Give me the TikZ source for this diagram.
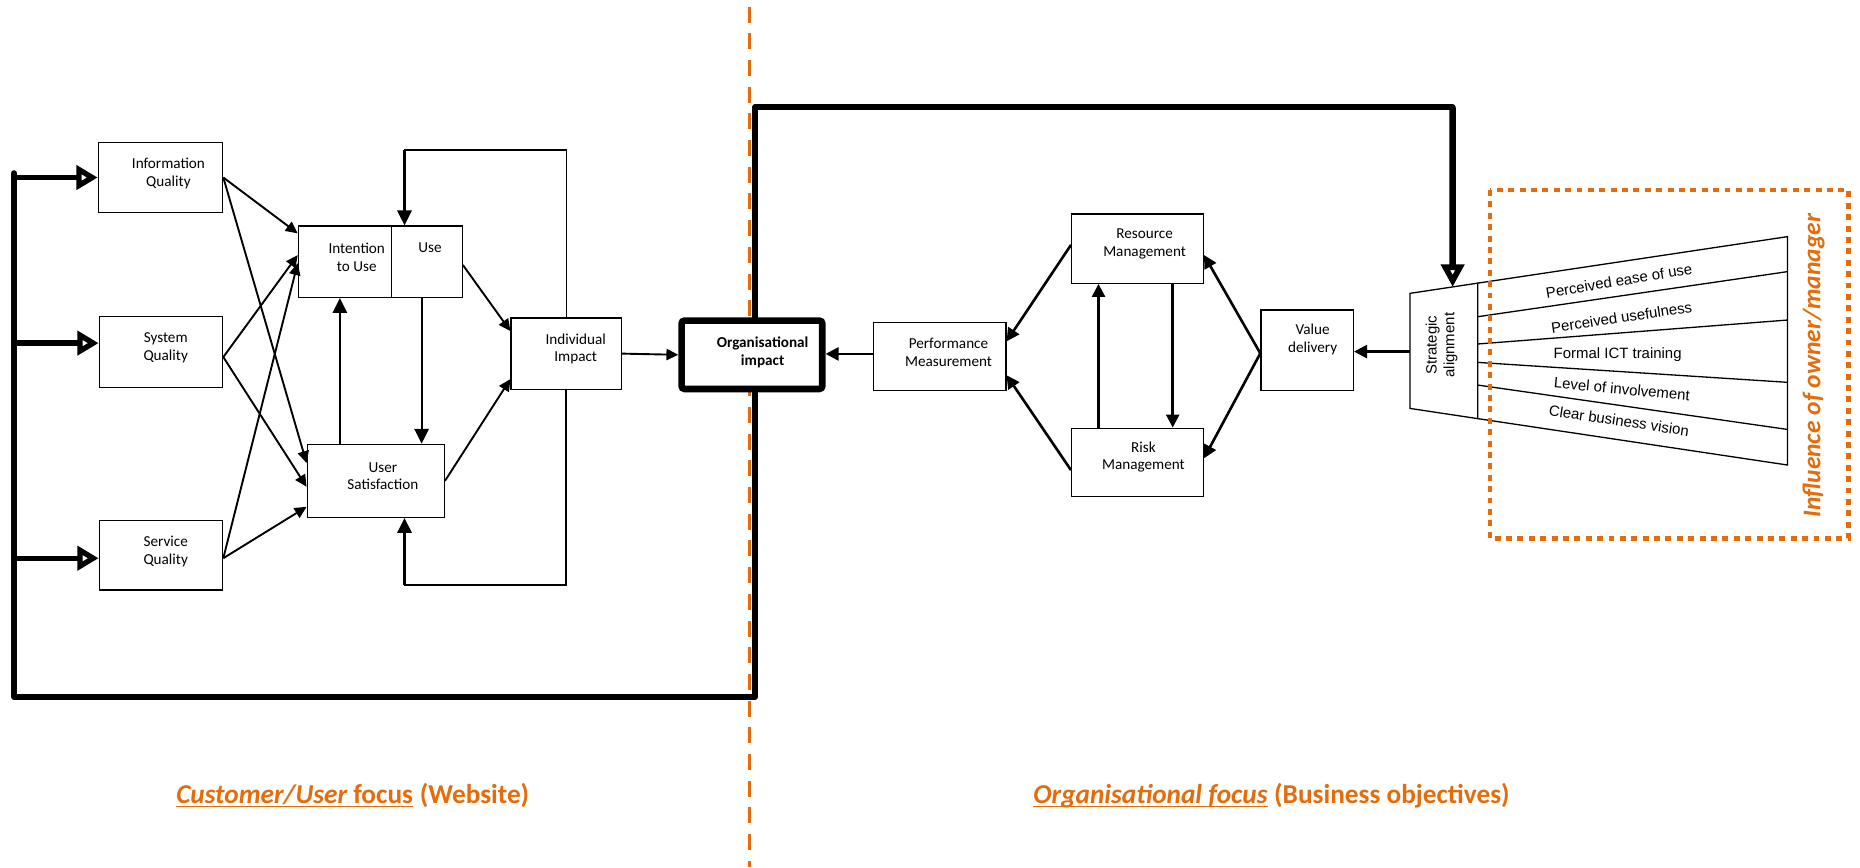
\documentclass[tikz,border=0pt]{standalone}
\usepackage{fontspec}
\setmainfont{Carlito}
\newfontfamily\arialfont{Liberation Sans}
\usetikzlibrary{arrows.meta,calc}
\definecolor{accent}{RGB}{228,108,10}

\begin{document}
\begin{tikzpicture}[x=1pt,y=-1pt,
  every node/.style={inner sep=0pt},
  box/.style={draw, line width=1.1pt, fill=white, inner sep=0pt},
  boxtext/.style={font=\fontsize{12.8}{15}\selectfont, align=center},
  thinarrow/.style={line width=1.6pt, -{Triangle[length=10pt, width=9.5pt]}},
  midarrow/.style={line width=1.8pt, -{Triangle[length=12.5pt, width=12pt]}},
  rarrow/.style={line width=2.2pt, -{Triangle[length=11pt, width=11pt]}},
  bigarrow/.style={line width=4.5pt, -{Triangle[open, length=18pt, width=20pt]}},
  droparrow/.style={line width=5.5pt, -{Triangle[open, length=19pt, width=19pt]}},
  heavyline/.style={line width=5pt, line join=round, line cap=round},
  fbline/.style={line width=1.1pt, line cap=rect},
  fanline/.style={line width=1.1pt},
  fantext/.style={font=\arialfont\fontsize{12.6}{15}\selectfont},
  divider/.style={draw=accent, line width=2.8pt, dash pattern=on 13.5pt off 9pt, dash phase=16.9pt},
  dotbox/.style={draw=accent, line width=4pt, dash pattern=on 5pt off 4.6pt},
  focuslabel/.style={text=accent, font=\fontsize{23}{27}\selectfont\bfseries, inner sep=0pt, anchor=base west},
]
\useasboundingbox (0,0) rectangle (1568,731);

% dashed divider between the two focus areas
\draw[divider] (631.7,0) -- (631.7,731);

% ---------------- customer / user side ----------------
\node[box, minimum width=104.8pt, minimum height=59.3pt,
      label={[boxtext, xshift=6.7pt, yshift=3.6pt]center:Information\\Quality}] (iq) at (135.3,149.65) {};
\node[box, minimum width=104pt, minimum height=59.5pt,
      label={[boxtext, xshift=4pt, yshift=3.6pt]center:System\\Quality}] (sq) at (135.7,296.75) {};
\node[box, minimum width=104pt, minimum height=58.4pt,
      label={[boxtext, xshift=4pt, yshift=3.6pt]center:Service\\Quality}] (svq) at (135.7,468.2) {};

\node[box, minimum width=78.5pt, minimum height=60.2pt,
      label={[boxtext, xshift=10pt, yshift=3.6pt]center:Intention\\to Use}] (itu) at (290.75,220.6) {};
\node[box, minimum width=59.7pt, minimum height=60.2pt,
      label={[boxtext, xshift=2.7pt, yshift=11.6pt]center:Use}] (use) at (359.85,220.6) {};
\node[box, minimum width=115.6pt, minimum height=61.5pt,
      label={[boxtext, xshift=6pt, yshift=4pt]center:User\\Satisfaction}] (us) at (316.8,405.35) {};
\node[box, minimum width=93pt, minimum height=60.2pt,
      label={[boxtext, xshift=8pt, yshift=4pt]center:Individual\\Impact}] (ii) at (477.3,298.1) {};

% quality dimensions feeding intention to use and satisfaction
\coordinate (sqout) at ($(sq.north east)!0.57!(sq.south east)$);
\coordinate (svqout) at ($(svq.north east)!0.54!(svq.south east)$);
\draw[thinarrow] (iq.east) -- ($(itu.north west)!0.11!(itu.south west)$);
\draw[thinarrow] (iq.east) -- ($(us.north west)!0.26!(us.south west)$);
\draw[thinarrow] (sqout) -- ($(itu.north west)!0.41!(itu.south west)$);
\draw[thinarrow] (sqout) -- ($(us.north west)!0.58!(us.south west)$);
\draw[thinarrow] (svqout) -- ($(itu.north west)!0.52!(itu.south west)$);
\draw[thinarrow] (svqout) -- ($(us.north west)!0.85!(us.south west)$);

% use and satisfaction
\coordinate (upx) at ($(itu.south west)!0.447!(itu.south east)$);
\draw[midarrow] (upx |- us.north) -- (upx);
\coordinate (dnx) at ($(use.south west)!0.427!(use.south east)$);
\draw[midarrow] (dnx) -- (dnx |- us.north);

% towards individual impact
\draw[thinarrow] ($(use.north east)!0.546!(use.south east)$) -- ($(ii.north west)!0.19!(ii.south west)$);
\draw[thinarrow] (us.east) -- ($(ii.north west)!0.85!(ii.south west)$);

% feedback loops from individual impact
\coordinate (fbtop) at (341,126.5);
\coordinate (fbbot) at (341,493.2);
\draw[fbline] (ii.north) |- (fbtop);
\draw[midarrow] (fbtop) -- (fbtop |- use.north);
\draw[fbline, line width=1.4pt] (ii.south) |- (fbbot);
\draw[midarrow] (fbbot) -- (fbbot |- us.south);

% ---------------- organisational side ----------------
\node[box, line width=5.6pt, rounded corners=2.5pt, minimum width=118.6pt, minimum height=57.6pt,
      label={[boxtext, font=\fontsize{12.8}{15}\selectfont\bfseries, xshift=9pt, yshift=2pt]center:Organisational\\impact}] (org) at (633.9,299.1) {};
\draw[thinarrow] (ii.east) -- (org.west);

\node[box, minimum width=111.8pt, minimum height=57.4pt,
      label={[boxtext, xshift=7.5pt, yshift=3.7pt]center:Performance\\Measurement}] (pm) at (792.1,300.7) {};
\node[box, minimum width=111pt, minimum height=58.4pt,
      label={[boxtext, xshift=6pt, yshift=4pt]center:Resource\\Management}] (rm) at (958.9,209.6) {};
\node[box, minimum width=111pt, minimum height=57.7pt,
      label={[boxtext, xshift=5pt, yshift=4.5pt]center:Risk\\Management}] (rk) at (958.9,389.85) {};
\node[box, minimum width=77.9pt, minimum height=68.1pt,
      label={[boxtext, xshift=4.6pt, yshift=9pt]center:Value\\delivery}] (vd) at (1101.95,295.35) {};

% strategic alignment trapezoid
\coordinate (saTL) at (1188.6,247.3);
\coordinate (saTR) at (1245.7,238.7);
\coordinate (saBR) at (1245.7,352.9);
\coordinate (saBL) at (1188.6,344.3);
\draw[fanline] (saTL) -- (saTR) -- (saBR) -- (saBL) -- cycle;
\node[fantext, rotate=90, align=center] (sa) at (1215.3,291) {Strategic\\alignment};
\coordinate (saL) at (1188.6,296.4);
\coordinate (satop) at ($(saTL)!0.63!(saTR)$);

% fan of owner/manager factors
\coordinate (fanTop) at (1506.8,199.5);
\coordinate (fanBot) at (1506.8,392);
\draw[fanline] (saTR) -- (fanTop) -- (fanBot) -- (saBR);
\draw[fanline] (1245.7,267) -- (1506.8,229);
\draw[fanline] (1245.7,290) -- (1506.8,269.8);
\draw[fanline] (1245.7,305.5) -- (1506.8,322.3);
\draw[fanline] (1245.7,324.6) -- (1506.8,362);
\node[fantext, rotate=9.5] (peou) at (1364.8,236.6) {Perceived ease of use};
\node[fantext, rotate=8.5] (pu) at (1367,267.5) {Perceived usefulness};
\node[fantext] (fict) at (1363.7,299) {Formal ICT training};
\node[fantext, rotate=-5.5] (loi) at (1367.3,328) {Level of involvement};
\node[fantext, rotate=-8.5] (cbv) at (1364.8,354.6) {Clear business vision};

% owner/manager influence frame
\draw[dotbox] (1256,160.2) rectangle (1558.2,453.8);
\node[text=accent, font=\fontsize{21.5}{24}\selectfont\bfseries\itshape, rotate=90] (infl) at (1529,308.4) {Influence of owner/manager};

% organisational connectors
\coordinate (pmout) at ($(pm.north west)!0.46!(pm.south west)$);
\draw[rarrow] (pmout) -- (pmout -| org.east);
\draw[rarrow] ($(rm.north west)!0.447!(rm.south west)$) -- ($(pm.north east)!0.279!(pm.south east)$);
\draw[rarrow] ($(rk.north west)!0.61!(rk.south west)$) -- ($(pm.north east)!0.767!(pm.south east)$);
\coordinate (vdout) at ($(vd.north west)!0.536!(vd.south west)$);
\draw[rarrow] (vdout) -- ($(rm.north east)!0.59!(rm.south east)$);
\draw[rarrow] (vdout) -- ($(rk.north east)!0.44!(rk.south east)$);
\coordinate (rdx) at ($(rm.south west)!0.765!(rm.south east)$);
\draw[rarrow] (rdx) -- (rdx |- rk.north);
\coordinate (rux) at ($(rm.south west)!0.207!(rm.south east)$);
\draw[rarrow] (rux |- rk.north) -- (rux);
\draw[rarrow] (saL) -- (saL -| vd.east);

% organisational impact feeding back to both sides
\coordinate (topL) at (636.5,90.5);
\coordinate (topR) at (1224.6,90.5);
\coordinate (botR) at (636.5,587.3);
\coordinate (botL) at (11.8,587.3);
\coordinate (barTop) at (11.8,146);
\draw[heavyline] (topL |- org.north) -- (topL) -- (topR);
\draw[droparrow] (topR) -- (satop);
\draw[heavyline] (botR |- org.south) -- (botR) -- (botL) -- (barTop);
\coordinate (sqin) at ($(sq.north west)!0.376!(sq.south west)$);
\coordinate (svqin) at ($(svq.north west)!0.54!(svq.south west)$);
\draw[bigarrow] (barTop |- iq.west) -- (iq.west);
\draw[bigarrow] (barTop |- sqin) -- (sqin);
\draw[bigarrow] (barTop |- svqin) -- (svqin);

% focus captions
\node[focuslabel] (cfocus) at (148.4,677) {\itshape Customer/User\upshape\ focus};
\node[focuslabel] (cweb) at ([xshift=5.2pt]cfocus.base east) {(Website)};
\draw[accent, line width=1.1pt] ([yshift=-2.8pt]cfocus.base west) -- ([yshift=-2.8pt]cfocus.base east);
\node[focuslabel] (ofocus) at (871,677) {\itshape Organisational focus};
\node[focuslabel] (obiz) at ([xshift=5.2pt]ofocus.base east) {(Business objectives)};
\draw[accent, line width=1.1pt] ([yshift=-2.8pt]ofocus.base west) -- ([yshift=-2.8pt]ofocus.base east);
\end{tikzpicture}
\end{document}
